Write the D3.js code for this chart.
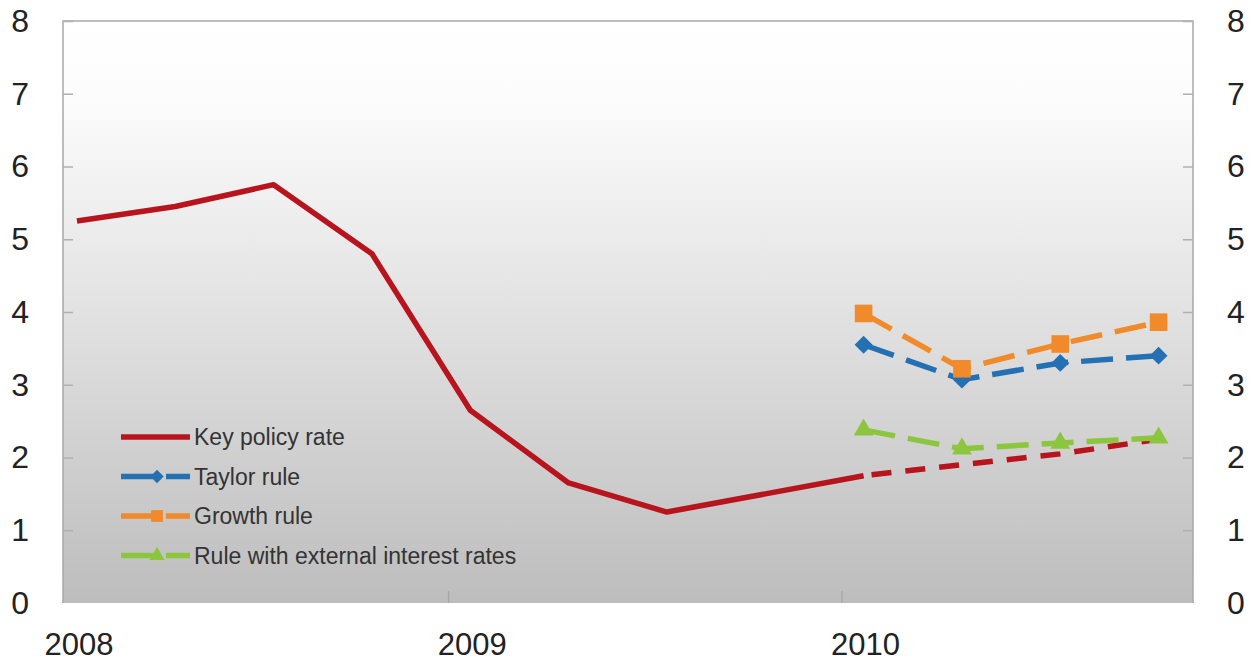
<!DOCTYPE html>
<html>
<head>
<meta charset="utf-8">
<script src="https://cdn.jsdelivr.net/npm/d3@7"></script>
<style>
  body { margin: 0; background: #fff; }
  svg { display: block; font-family: Arial, "Liberation Sans", sans-serif; }
</style>
</head>
<body>
<svg id="chart" width="1250" height="663"></svg>
<script>
// quarters 2008Q1 .. 2010Q4
const quarters = ["2008Q1","2008Q2","2008Q3","2008Q4","2009Q1","2009Q2","2009Q3","2009Q4","2010Q1","2010Q2","2010Q3","2010Q4"]
const yearLabels = ["2008", "2009", "2010"]
const yTicks = [0, 1, 2, 3, 4, 5, 6, 7, 8]

const keyRate = [5.25, 5.45, 5.75, 4.8, 2.65, 1.65, 1.25, 1.5, 1.75]
const keyRateForecast = [1.75, 1.9, 2.05, 2.25]   // from 2010Q1
const taylorRule = [3.55, 3.07, 3.3, 3.4]
const growthRule = [3.98, 3.22, 3.56, 3.86]
const externalRule = [2.38, 2.12, 2.2, 2.27]
const ruleStart = 8 // index of 2010Q1

const seriesNames = ["Key policy rate", "Taylor rule", "Growth rule", "Rule with external interest rates"]

const colors = {red: "#b7141e", blue: "#2470b3", orange: "#f08a2a", green: "#8cc63e"}

const svg = d3.select("#chart")
const plot = {left: 63, right: 1193, top: 21, bottom: 603}

// index scale: quarter i sits at its index, the axis runs a bit past both ends
const x = d3.scaleLinear().domain([-0.142, 11.35]).range([plot.left, plot.right])
const y = d3.scaleLinear().domain([0, 8]).range([plot.bottom, plot.top])

// background gradient
const grad = svg.append("defs").append("linearGradient")
    .attr("id", "bg").attr("x1", 0).attr("y1", 0).attr("x2", 0).attr("y2", 1)
grad.append("stop").attr("offset", "0%").attr("stop-color", "#ffffff")
grad.append("stop").attr("offset", "14%").attr("stop-color", "#fcfcfc")
grad.append("stop").attr("offset", "55%").attr("stop-color", "#dedede")
grad.append("stop").attr("offset", "100%").attr("stop-color", "#bdbdbd")

svg.append("rect")
    .attr("x", plot.left).attr("y", plot.top)
    .attr("width", plot.right - plot.left).attr("height", plot.bottom - plot.top)
    .attr("fill", "url(#bg)")

// frame: left, top, right
svg.append("path")
    .attr("d", `M${plot.left},${plot.bottom}V${plot.top}H${plot.right}V${plot.bottom}`)
    .attr("fill", "none").attr("stroke", "#a8a8a8").attr("stroke-width", 1.5)

// y ticks (inside) and labels on both sides
const yAxisLeft = d3.axisLeft(y).tickValues(yTicks).tickSize(-10).tickPadding(34)
const yAxisRight = d3.axisRight(y).tickValues(yTicks).tickSize(-10).tickPadding(34)

const styleAxis = g => {
    g.select(".domain").remove()
    g.selectAll(".tick line").attr("stroke", "#b0b0b0").attr("stroke-width", 1.5)
    g.selectAll(".tick text").attr("font-size", 32).attr("fill", "#222")
        .attr("font-family", "Arial, 'Liberation Sans', sans-serif")
}

svg.append("g").attr("transform", `translate(${plot.left},0)`).call(yAxisLeft).call(styleAxis)
svg.append("g").attr("transform", `translate(${plot.right},0)`).call(yAxisRight).call(styleAxis)
svg.selectAll(".tick").filter(d => d === 0).select("line").remove()

// x axis: small year-boundary ticks, labels under the first quarter of each year
const yearIdx = yearLabels.map((lab, i) => i * 4)
svg.append("g").selectAll("line")
    .data(yearIdx.slice(1))
    .enter().append("line")
    .attr("x1", d => x(d - 0.22)).attr("x2", d => x(d - 0.22))
    .attr("y1", plot.bottom - 12).attr("y2", plot.bottom)
    .attr("stroke", "#a8a8a8").attr("stroke-width", 1.5)

svg.append("g").selectAll("text")
    .data(yearLabels)
    .enter().append("text")
    .attr("x", (d, i) => x(yearIdx[i]) + 2)
    .attr("y", 655)
    .attr("text-anchor", "middle")
    .attr("font-size", 31).attr("fill", "#222")
    .text(d => d)

// lines
const line = d3.line().x(d => x(d[0])).y(d => y(d[1]))
const pts = (vals, start) => vals.map((v, i) => [start + i, v])

const drawLine = (vals, start, color, dash) => svg.append("path")
    .datum(pts(vals, start))
    .attr("d", line)
    .attr("fill", "none")
    .attr("stroke", color)
    .attr("stroke-width", 5.5)
    .attr("stroke-linejoin", "round")
    .attr("stroke-dasharray", dash)

drawLine(keyRate, 0, colors.red, null)
drawLine(keyRateForecast, ruleStart, colors.red, "20,14").attr("stroke-dashoffset", -8)
drawLine(taylorRule, ruleStart, colors.blue, "32,13")
drawLine(growthRule, ruleStart, colors.orange, "32,13")
drawLine(externalRule, ruleStart, colors.green, "32,13")

// markers
const diamond = d3.symbol().type(d3.symbolSquare).size(160)
const square = d3.symbol().type(d3.symbolSquare).size(310)
const triangle = d3.symbol().type(d3.symbolTriangle).size(170)

const drawMarkers = (vals, start, sym, color, rot) => svg.append("g")
    .selectAll("path")
    .data(pts(vals, start))
    .enter().append("path")
    .attr("d", sym)
    .attr("fill", color)
    .attr("transform", d => `translate(${x(d[0])},${y(d[1])}) rotate(${rot})`)

drawMarkers(taylorRule, ruleStart, diamond, colors.blue, 45)
drawMarkers(growthRule, ruleStart, square, colors.orange, 0)
drawMarkers(externalRule, ruleStart, triangle, colors.green, 0)

// legend
const legend = svg.append("g").attr("transform", "translate(121,437)")
const legendItems = [
    {color: colors.red, dash: null, sym: null, rot: 0},
    {color: colors.blue, dash: "32,13", sym: d3.symbol().type(d3.symbolSquare).size(90), rot: 45},
    {color: colors.orange, dash: "32,13", sym: d3.symbol().type(d3.symbolSquare).size(140), rot: 0},
    {color: colors.green, dash: "32,13", sym: d3.symbol().type(d3.symbolTriangle).size(100), rot: 0}
]

const rows = legend.selectAll("g")
    .data(legendItems)
    .enter().append("g")
    .attr("transform", (d, i) => `translate(0,${i * 39.5})`)

rows.append("line")
    .attr("x1", 0).attr("x2", 69).attr("y1", 0).attr("y2", 0)
    .attr("stroke", d => d.color).attr("stroke-width", 5.5)
    .attr("stroke-dasharray", d => d.dash)

rows.filter(d => d.sym)
    .append("path")
    .attr("d", d => d.sym())
    .attr("fill", d => d.color)
    .attr("transform", d => `translate(36,0) rotate(${d.rot})`)

rows.append("text")
    .attr("x", 73).attr("y", 0).attr("dy", "0.35em")
    .attr("font-size", 23).attr("fill", "#333")
    .text((d, i) => seriesNames[i])
</script>
</body>
</html>
